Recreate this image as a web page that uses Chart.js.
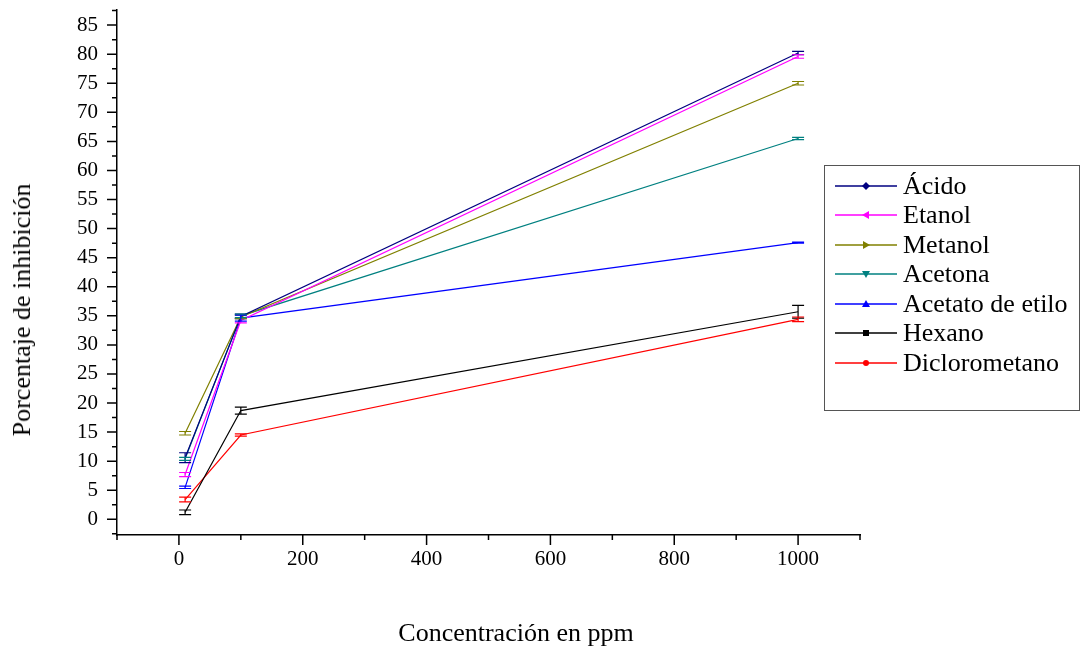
<!DOCTYPE html>
<html>
<head>
<meta charset="utf-8">
<script src="https://cdn.jsdelivr.net/npm/chart.js@4.4.1/dist/chart.umd.min.js"></script>
<style>
body{margin:0;background:#fff;}
#wrap{position:relative;width:1083px;height:652px;font-family:"Liberation Serif","Times New Roman",serif;}
#ytitle{position:absolute;left:22px;top:310px;transform:translate(-50%,-50%) rotate(-90deg);font-size:26px;white-space:nowrap;}
#xtitle{position:absolute;left:516px;top:633px;transform:translate(-50%,-50%);font-size:26px;white-space:nowrap;}
#legend{position:absolute;left:824px;top:165px;width:254px;height:239px;border:1.5px solid #555;box-sizing:content-box;padding-top:5px;}
.row{height:29.5px;display:flex;align-items:center;font-size:26px;}
.row svg{margin-left:10px;margin-right:6px;}
</style>
</head>
<body>
<div id="wrap">
<canvas id="c" width="1083" height="652"></canvas>
<div id="ytitle">Porcentaje de inhibición</div>
<div id="xtitle">Concentración en ppm</div>
<div id="legend"></div>
</div>
<script>
// concentraciones (ppm)
const conc = [10, 100, 1000];

const acido = [10.6, 34.9, 80.2];
const acidoErr = [0.85, 0.4, 0.3];
const etanol = [7.7, 34.2, 79.6];
const etanolErr = [0.35, 0.4, 0.3];
const metanol = [14.8, 34.8, 75.0];
const metanolErr = [0.3, 0.3, 0.3];
const acetona = [10.4, 35.0, 65.5];
const acetonaErr = [0.25, 0.3, 0.2];
const acetato = [5.5, 34.6, 47.6];
const acetatoErr = [0.2, 0.5, 0.1];
const hexano = [1.2, 18.7, 35.7];
const hexanoErr = [0.4, 0.6, 1.1];
const dicloro = [3.4, 14.5, 34.4];
const diclorOErr = [0.4, 0.2, 0.4];

const names = ["Ácido","Etanol","Metanol","Acetona","Acetato de etilo","Hexano","Diclorometano"];
const series = [acido, etanol, metanol, acetona, acetato, hexano, dicloro];
const errs = [acidoErr, etanolErr, metanolErr, acetonaErr, acetatoErr, hexanoErr, diclorOErr];
const colors = ["#000080","#ff00ff","#808000","#008080","#0000ff","#000000","#ff0000"];
const markers = ["diamond","left","right","down","up","square","circle"];

const yTicks = [];
for (let v = -2.5; v <= 87.5; v += 2.5) yTicks.push(v);
const xTicks = [];
for (let v = -100; v <= 1100; v += 100) xTicks.push(v);

var datasets = series.map(function(s, k){
  return {
    label: names[k],
    data: s.map(function(v, i){ return {x: conc[i], y: v}; }),
    borderColor: colors[k],
    backgroundColor: colors[k],
    borderWidth: 1.2,
    pointRadius: 0,
    errors: errs[k]
  };
});

// barras de error
const errorBars = {
  id: 'errorBars',
  afterDatasetsDraw(chart){
    var ctx = chart.ctx, xs = chart.scales.x, ys = chart.scales.y;
    chart.data.datasets.forEach(function(ds){
      ctx.save();
      ctx.strokeStyle = ds.borderColor;
      ctx.lineWidth = 1.2;
      ds.data.forEach(function(p, i){
        var e = ds.errors[i];
        var x = xs.getPixelForValue(p.x);
        var y1 = ys.getPixelForValue(p.y + e), y2 = ys.getPixelForValue(p.y - e);
        ctx.beginPath();
        ctx.moveTo(x, y1); ctx.lineTo(x, y2);
        ctx.moveTo(x - 6, y1); ctx.lineTo(x + 6, y1);
        ctx.moveTo(x - 6, y2); ctx.lineTo(x + 6, y2);
        ctx.stroke();
      });
      ctx.restore();
    });
  }
};

// marcas de los ejes, mayores y menores
const axisTicks = {
  id: 'axisTicks',
  afterDraw(chart){
    var ctx = chart.ctx, xs = chart.scales.x, ys = chart.scales.y, a = chart.chartArea;
    ctx.save();
    ctx.strokeStyle = '#000';
    ctx.lineWidth = 1.5;
    ctx.beginPath();
    xTicks.forEach(function(v){
      var x = xs.getPixelForValue(v);
      var len = (v % 200 === 0) ? 10 : 5;
      ctx.moveTo(x, a.bottom); ctx.lineTo(x, a.bottom + len);
    });
    yTicks.forEach(function(v){
      var y = ys.getPixelForValue(v);
      var len = (v % 5 === 0) ? 10 : 5;
      ctx.moveTo(a.left, y); ctx.lineTo(a.left - len, y);
    });
    ctx.stroke();
    ctx.restore();
  }
};

var chart = new Chart(document.getElementById('c').getContext('2d'), {
  type: 'line',
  data: {datasets: datasets},
  plugins: [errorBars, axisTicks],
  options: {
    responsive: false,
    animation: false,
    layout: {padding: {top: 10, right: 223, left: 0, bottom: 0}},
    plugins: {legend: {display: false}, tooltip: {enabled: false}},
    scales: {
      x: {
        type: 'linear', min: -100, max: 1100,
        afterBuildTicks: function(s){ s.ticks = xTicks.map(function(v){ return {value: v}; }); },
        afterFit: function(s){ s.height = 117; s.paddingLeft = 0; s.paddingRight = 0; },
        ticks: {
          autoSkip: false, maxRotation: 0, padding: 2, color: '#000',
          font: {family: 'Liberation Serif', size: 21},
          callback: function(v){ return (v % 200 === 0 && v >= 0 && v <= 1000) ? v : ''; }
        },
        grid: {display: true, drawOnChartArea: false, drawTicks: true, tickLength: 10, tickColor: 'rgba(0,0,0,0)'},
        border: {display: true, color: '#000', width: 1.5}
      },
      y: {
        type: 'linear', min: -2.7, max: 87.6,
        afterBuildTicks: function(s){ s.ticks = yTicks.map(function(v){ return {value: v}; }); },
        afterFit: function(s){ s.width = 117; s.paddingTop = 0; s.paddingBottom = 0; },
        ticks: {
          autoSkip: false, padding: 9, color: '#000',
          font: {family: 'Liberation Serif', size: 21},
          callback: function(v){ return (v % 5 === 0 && v >= 0 && v <= 85) ? v : ''; }
        },
        grid: {display: true, drawOnChartArea: false, drawTicks: true, tickLength: 10, tickColor: 'rgba(0,0,0,0)'},
        border: {display: true, color: '#000', width: 1.5}
      }
    }
  }
});

// leyenda
function markerSvg(kind, col){
  var m = '';
  if (kind == 'diamond') m = '<polygon points="31,2 35,6 31,10 27,6" fill="'+col+'"/>';
  if (kind == 'left') m = '<polygon points="27,6 34,2 34,10" fill="'+col+'"/>';
  if (kind == 'right') m = '<polygon points="35,6 28,2 28,10" fill="'+col+'"/>';
  if (kind == 'down') m = '<polygon points="27,3 35,3 31,10" fill="'+col+'"/>';
  if (kind == 'up') m = '<polygon points="27,9 35,9 31,2" fill="'+col+'"/>';
  if (kind == 'square') m = '<rect x="28" y="3" width="6" height="6" fill="'+col+'"/>';
  if (kind == 'circle') m = '<circle cx="31" cy="6" r="3" fill="'+col+'"/>';
  return '<svg width="62" height="12"><line x1="0" y1="6" x2="62" y2="6" stroke="'+col+'" stroke-width="1.5"/>'+m+'</svg>';
}
var leg = document.getElementById('legend');
for (var i = 0; i < names.length; i++) {
  var r = document.createElement('div');
  r.className = 'row';
  r.innerHTML = markerSvg(markers[i], colors[i]) + '<span>' + names[i] + '</span>';
  leg.appendChild(r);
}
</script>
</body>
</html>
